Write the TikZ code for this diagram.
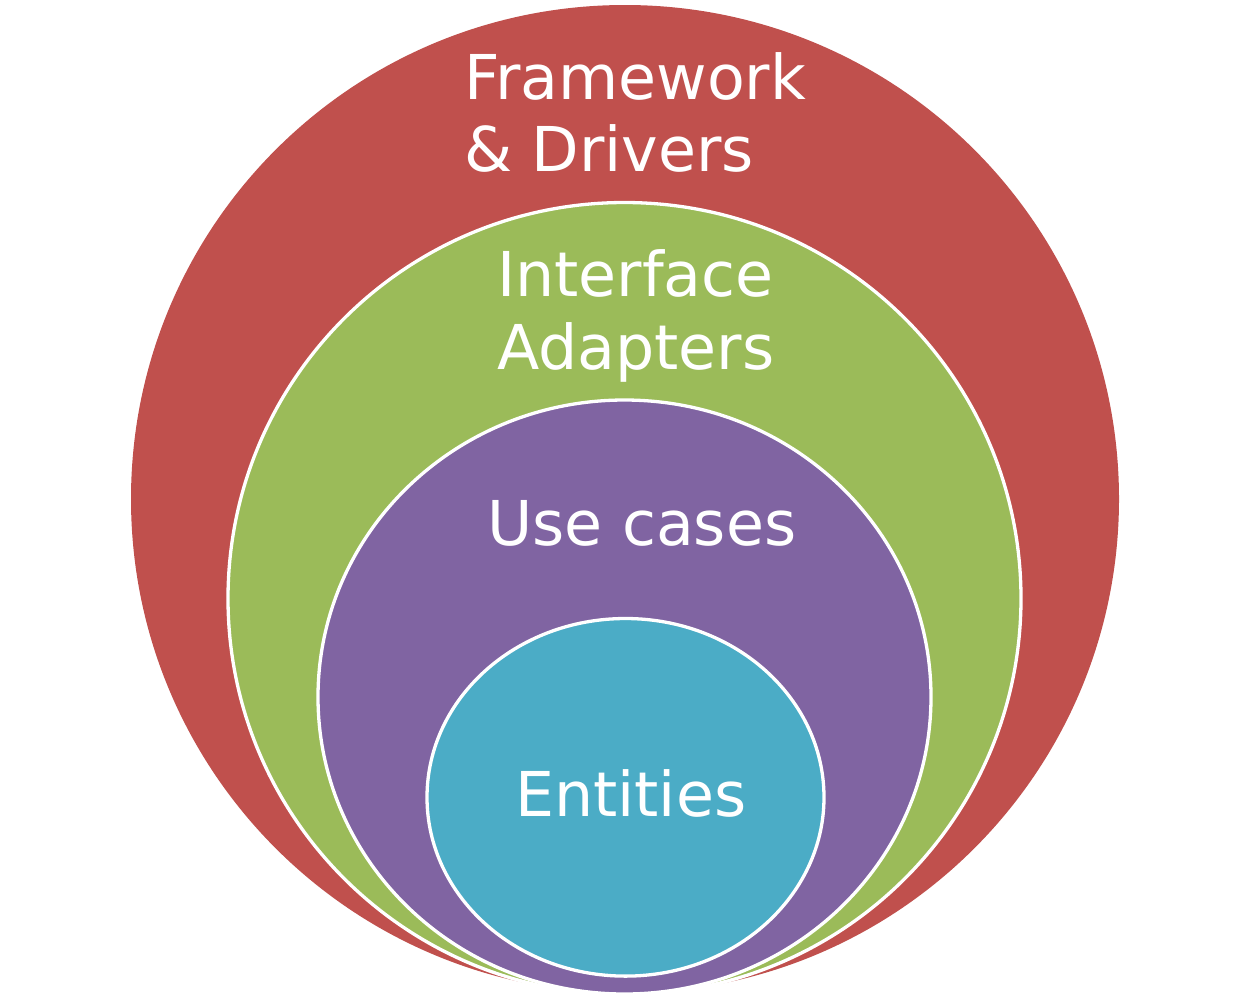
\documentclass[tikz,border=0pt]{standalone}
\usepackage{fontspec}
\setmainfont{DejaVu Sans}
\definecolor{ringred}{HTML}{C0504D}
\definecolor{ringgreen}{HTML}{9BBB59}
\definecolor{ringpurple}{HTML}{8064A2}
\definecolor{ringcyan}{HTML}{4BACC6}
\tikzset{
  ring/.style={draw=white, line width=3.3pt},
  lbl/.style={text=white, font=\fontsize{61.8}{72}\selectfont, anchor=base west, inner sep=0pt, outer sep=0pt}
}
\begin{document}
\begin{tikzpicture}[x=1pt, y=-1pt]
\useasboundingbox (0,0) rectangle (1252,997);
\fill[ringred] (625,499) ellipse [x radius=494, y radius=494];
\path[ring, fill=ringgreen] (624.5,598.5) ellipse [x radius=396.5, y radius=396];
\path[ring, fill=ringpurple] (624.5,697) ellipse [x radius=306.5, y radius=297];
\path[ring, fill=ringcyan] (625.5,797.3) ellipse [x radius=198.5, y radius=178.8];
\node[lbl] (fw1) at (464,99) {Framework};
\node[lbl] (fw2) at (464,171) {\& Drivers};
\node[lbl] (ia1) at (497,296) {Interface};
\node[lbl] (ia2) at (497,369) {Adapters};
\node[lbl] (uc) at (487,545) {Use cases};
\node[lbl] (en) at (515,816) {Entities};
\end{tikzpicture}
\end{document}
